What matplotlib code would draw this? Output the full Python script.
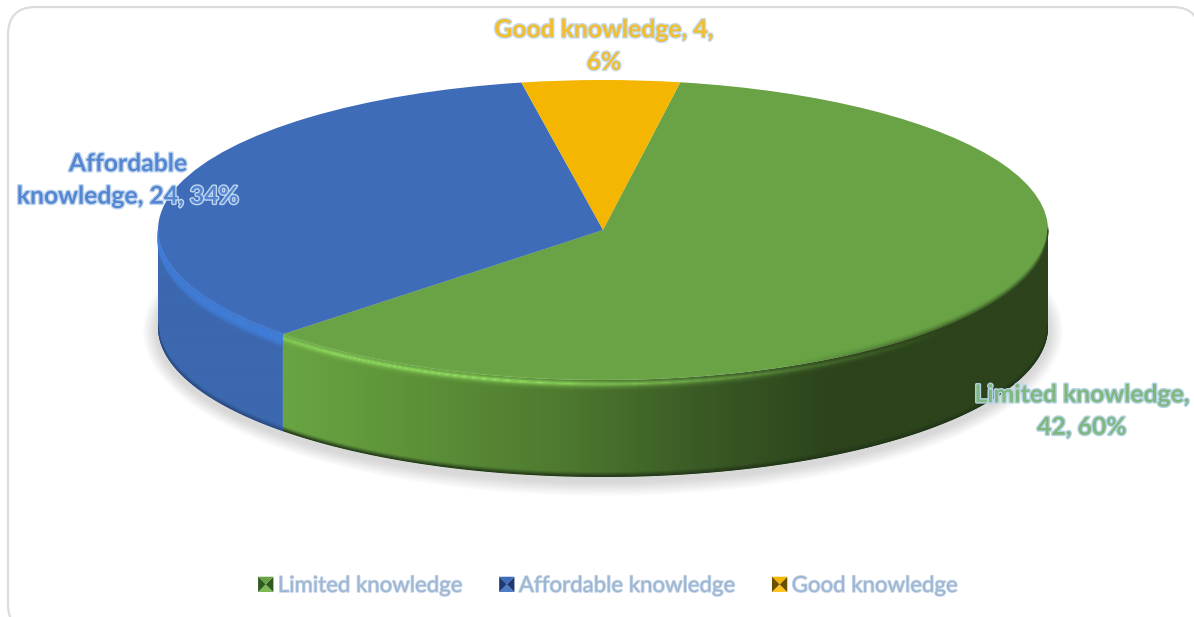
import numpy as np
import matplotlib
matplotlib.use("Agg")
import matplotlib.pyplot as plt
import matplotlib.patheffects as pe
from matplotlib.colors import LinearSegmentedColormap
from matplotlib.legend_handler import HandlerBase
from matplotlib.patches import Ellipse, FancyBboxPatch, Patch, Polygon
from matplotlib.transforms import IdentityTransform

categories = ["Limited knowledge", "Affordable knowledge", "Good knowledge"]
counts = [42, 24, 4]
percents = [60, 34, 6]
label_lines = [
    "Limited knowledge,\n42, 60%",
    "Affordable\nknowledge, 24, 34%",
    "Good knowledge, 4,\n6%",
]

W, H = 1194, 617
CX, CY, RX, RY = 603, 230, 445, 150   # top face of the disc, pixels
DEPTH = 97 / RY

face_colors = ["#69A345", "#3F6CB8", "#F4B600"]
text_colors = ["#7FB77F", "#5586D2", "#F3BE2E"]
glow_colors = ["#B4D3E2", "#BFD5EF", "#C4D9EA"]
legend_dark = ["#2F5A1E", "#1F3A70", "#6B5000"]
legend_light = ["#7DBA55", "#4F7CC8", "#FFC51F"]
label_pos = [(1082, 411), (128, 180), (604, 46)]

plt.rcParams["font.family"] = ["Lato", "DejaVu Sans"]


def fx(px):
    return (px - CX) / RX


def fy(py):
    return (CY - py) / RY


fig = plt.figure(figsize=(W / 100, H / 100), dpi=100, facecolor="white")
ax = fig.add_axes([0, 0, 1, 1])

# pie gives the top face, the axes stretch turns it into an ellipse
wedges, _ = ax.pie(counts, colors=face_colors, startangle=80, counterclock=False,
                   radius=1, wedgeprops={"linewidth": 0, "zorder": 6})
ax.set_aspect("auto")

# card outline, runs off the right and bottom of the picture
card = FancyBboxPatch((8 + 28, H - 632 + 28), 1192 - 56, 625 - 56,
                      boxstyle="round,pad=28,rounding_size=28", transform=IdentityTransform(),
                      fc="white", ec="#DCDCDC", lw=1.6, zorder=0)
ax.add_patch(card)

# soft shadow under the disc
for grow in np.linspace(15, 1, 14):
    ax.add_patch(Ellipse((0, -DEPTH - 4 / RY), 2 * (RX + grow) / RX, 2 * (RY + grow) / RY,
                         fc="#7A7A7A", ec="none", alpha=0.02, zorder=1))


def arc(t1, t2, n=200):
    t = np.radians(np.linspace(t1, t2, n))
    return np.cos(t), np.sin(t)


def wall_range(wedge):
    # only the front half of the disc shows a wall
    lo, hi = wedge.theta1 % 360, wedge.theta2 % 360
    if hi < lo:
        hi += 360
    return max(lo, 180), min(hi, 360)


def fading_edge(x, y, strength, color, row, k, z=7):
    # short runs along the outline so the alpha can change with x
    for j in range(0, len(x) - 1, 2):
        a = min(1, k * strength[j])
        if a > 0.01:
            ax.plot(x[j:j + 3], y[j:j + 3] - row / RY, color=color, alpha=a,
                    lw=0.8, zorder=z, solid_capstyle="butt")


wall_cmaps = [
    LinearSegmentedColormap.from_list(
        "g", [(0, "#69A442"), (0.15, "#5F943A"), (0.36, "#4E7A2F"), (0.55, "#3A5A25"), (0.72, "#2C431B"), (1, "#2C431B")]),
    LinearSegmentedColormap.from_list("b", ["#3C68AF", "#3C68AF"]),
]
rim_colors = ["#93E062", "#4180DE"]
# rim strength along the edge, x in pixels
rim_x = [[283, 330, 500, 620, 800, 950, 1048], [158, 200, 283]]
rim_y = [[0.6, 0.9, 1.0, 0.7, 0.25, 0.0, 0.0], [0.6, 0.9, 1.0]]
# rim strength across the edge, pixels below the face outline
rim_rows = [-2, -1, 0, 1, 2, 3, 4, 5, 6, 7, 8, 9, 10, 11, 12, 13]
rim_prof = [[.03, .08, .15, .3, .5, .8, 1, .8, .5, .3, .18, .1, .05, .02, 0, 0],
            [.2, .4, .6, .8, .9, 1, 1, 1, 1, .95, .9, .8, .65, .5, .3, .15]]
edge_colors = ["#22351A", "#2B4A80"]

for i, wedge in enumerate(wedges):
    lo, hi = wall_range(wedge)
    if hi <= lo:
        continue
    x, y = arc(lo, hi)
    poly = np.column_stack([np.r_[x, x[::-1]], np.r_[y, y[::-1] - DEPTH]])
    patch = Polygon(poly, closed=True, fc="none", ec="none", zorder=2)
    ax.add_patch(patch)
    im = ax.imshow(np.linspace(0, 1, 500)[None, :], cmap=wall_cmaps[i], aspect="auto",
                   extent=(x.min(), x.max(), -1 - DEPTH, 1), zorder=2, interpolation="bilinear")
    im.set_clip_path(patch)
    # soft dark edge along the bottom of the wall
    for off, a in zip([0.5, 1.5, 2.5, 3.5, 4.5], [0.9, 0.7, 0.45, 0.25, 0.1]):
        ax.plot(x, y - DEPTH + off / RY, color=edge_colors[i], alpha=a, lw=1.0, zorder=3, clip_path=patch)
    # highlight along the upper edge of the wall
    strength = np.interp(x * RX + CX, rim_x[i], rim_y[i])
    for row, k in zip(rim_rows, rim_prof[i]):
        fading_edge(x, y, strength, rim_colors[i], row, k)

# the face goes soft and dark towards the right hand edge
x, y = arc(270, 360)
dark = np.interp(x * RX + CX, [780, 960, 1048], [0.0, 1.0, 1.0])
for row, k in zip([-5, -4, -3, -2, -1, 0], [0.05, 0.12, 0.22, 0.36, 0.55, 0.75]):
    fading_edge(x, y, dark, "#2C431B", row, k)

ax.set_xlim(fx(0), fx(W))
ax.set_ylim(fy(H), fy(0))
ax.set_axis_off()

# data labels
for i, (px, py) in enumerate(label_pos):
    ax.text(px / W, 1 - py / H, label_lines[i], transform=ax.transAxes, ha="center", va="center",
            fontsize=17.8, fontweight="bold", color=text_colors[i], linespacing=1.5, zorder=10,
            path_effects=[pe.withStroke(linewidth=2.0, foreground=glow_colors[i])])


class PyramidHandler(HandlerBase):
    # legend key: square split into four shaded triangles
    def create_artists(self, legend, orig, xd, yd, width, height, fontsize, trans):
        i = categories.index(orig.get_label())
        s = 11
        x0, y0 = width - s - xd, -yd
        c = (x0 + s / 2, y0 + s / 2)
        a, b, d, e = (x0, y0), (x0 + s, y0), (x0 + s, y0 + s), (x0, y0 + s)
        tris = [([a, b, c], legend_light[i]), ([b, d, c], legend_dark[i]),
                ([d, e, c], face_colors[i]), ([e, a, c], legend_dark[i])]
        return [Polygon(p, closed=True, fc=col, ec="none", transform=trans) for p, col in tris]


handles = [Patch(label=c) for c in categories]
leg = ax.legend(handles=handles, loc="center", bbox_to_anchor=(608 / W, 1 - 586 / H), ncol=3,
                frameon=False, fontsize=16, handlelength=0.7, handleheight=0.7, handletextpad=0.2,
                columnspacing=1.6, handler_map={Patch: PyramidHandler()})
leg.set_zorder(10)
for t in leg.get_texts():
    t.set_color("#9DB6D4")
    t.set_path_effects([pe.withStroke(linewidth=1.2, foreground="#C9D8E8")])

fig.savefig("out.png", dpi=100)
